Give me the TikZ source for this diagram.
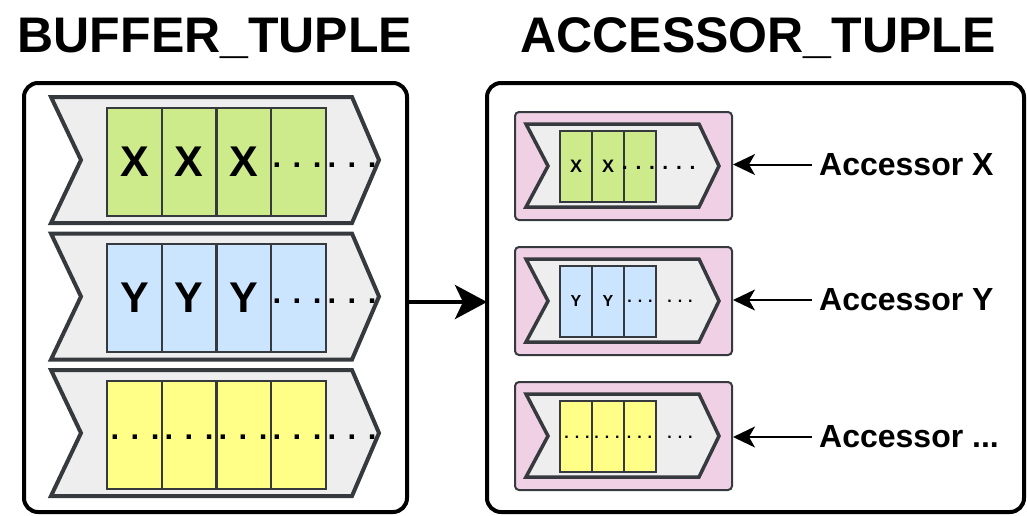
\documentclass[tikz,border=0pt]{standalone}
\usepackage{fontspec}
\setmainfont{Liberation Sans}
\usetikzlibrary{arrows.meta}

\definecolor{edgegrey}{HTML}{36393D}
\definecolor{chevfill}{HTML}{EEEEEE}
\definecolor{cellgreen}{HTML}{CDEB8B}
\definecolor{cellblue}{HTML}{CCE5FF}
\definecolor{cellyellow}{HTML}{FFFF88}
\definecolor{accpink}{HTML}{EFD0E4}

\newcommand{\fsz}[1]{\fontsize{#1}{#1}\selectfont}

\tikzset{
  frame/.style={draw=black, line width=4pt, rounded corners=14pt, fill=white,
    inner sep=0pt, outer sep=0pt},
  title/.style={font=\fsz{50}\bfseries, inner sep=0pt, anchor=base},
  chevron/.style={draw=edgegrey, fill=chevfill, line width=4pt, line join=miter},
  smallchevron/.style={draw=edgegrey, fill=chevfill, line width=3.5pt, line join=miter},
  bigcell/.style={draw=edgegrey, line width=2pt, minimum width=54.75pt,
    minimum height=108pt, inner sep=0pt, font=\fsz{43}\bfseries},
  smallcell/.style={draw=edgegrey, line width=2pt, minimum width=32pt,
    minimum height=71pt, inner sep=0pt, font=\fsz{17}\bfseries},
  accbox/.style={draw=edgegrey, fill=accpink, line width=2pt, rounded corners=4pt,
    minimum width=217pt, minimum height=108pt, inner sep=0pt},
  bigdots/.style={font=\fsz{31}\bfseries, inner sep=0pt},
  midots/.style={font=\fsz{21}\bfseries, inner sep=0pt},
  smdots/.style={font=\fsz{16}\bfseries, inner sep=0pt},
  acclabel/.style={font=\fsz{32}\bfseries, inner sep=0pt, anchor=west},
  accarrow/.style={line width=2pt, -{Stealth[length=22pt,width=21pt,inset=6pt]},
    shorten <=7pt},
  mainarrow/.style={line width=4.5pt, -{Stealth[length=32pt,width=34pt,inset=8pt]}}
}

\begin{document}
\begin{tikzpicture}[x=1pt,y=-1pt]
\useasboundingbox (0,0) rectangle (1027,515);

% headings
\node[title] (buftitle) at (215,52) {BUFFER\_TUPLE};
\node[title] (acctitle) at (758,52) {ACCESSOR\_TUPLE};

% outer containers
\node[frame, minimum width=383pt, minimum height=429pt] (bufbox) at (215.5,297.5) {};
\node[frame, minimum width=537pt, minimum height=429pt] (accbox) at (755.5,297.5) {};

% ---- buffers: one chevron per row, four cells each ----
\foreach \cy/\fillc/\nm in {160/cellgreen/bx, 296.5/cellblue/by, 433/cellyellow/bz}{
  \draw[chevron] (51,\cy-63) -- (352,\cy-63) -- (379,\cy) -- (352,\cy+63)
    -- (51,\cy+63) -- (81,\cy) -- cycle;
  \foreach \i/\cx in {1/134.4, 2/189.1, 3/243.9, 4/298.6}{
    \node[bigcell, fill=\fillc] (\nm\i) at (\cx,\cy+1.5) {};
  }
}

% buffer contents
\foreach \i in {1,2,3}{
  \node[font=\fsz{43}\bfseries, inner sep=0pt] (bxl\i) at (bx\i.center) {X};
  \node[font=\fsz{43}\bfseries, inner sep=0pt] (byl\i) at (by\i.center) {Y};
}
\node[bigdots] (bxd4) at (297,165) {. . .};
\node[bigdots] (bxd5) at (352,165) {. . .};
\node[bigdots] (byd4) at (297,301.5) {. . .};
\node[bigdots] (byd5) at (352,301.5) {. . .};
\node[bigdots] (bzd1) at (135,437) {. . .};
\node[bigdots] (bzd2) at (189,437) {. . .};
\node[bigdots] (bzd3) at (243,437) {. . .};
\node[bigdots] (bzd4) at (297,437) {. . .};
\node[bigdots] (bzd5) at (352,437) {. . .};

% ---- accessors: pink box, chevron, three cells ----
\foreach \cy/\fillc/\nm in {166/cellgreen/ax, 301/cellblue/ay, 436/cellyellow/az}{
  \node[accbox] (\nm) at (623.5,\cy) {};
  \draw[smallchevron] (526,\cy-42) -- (699,\cy-42) -- (719,\cy) -- (699,\cy+41)
    -- (526,\cy+41) -- (548,\cy) -- cycle;
  \foreach \i/\cx in {1/576, 2/608, 3/640}{
    \node[smallcell, fill=\fillc] (\nm\i) at (\cx,\cy) {};
  }
}

% accessor contents
\node[font=\fsz{18}\bfseries, inner sep=0pt] (axl1) at (ax1.center) {X};
\node[font=\fsz{18}\bfseries, inner sep=0pt] (axl2) at (ax2.center) {X};
\node[midots] (axd3) at (638.5,168) {. . .};
\node[midots] (axd4) at (679,168) {. . .};
\node[font=\fsz{16}\bfseries, inner sep=0pt] (ayl1) at (ay1.center) {Y};
\node[font=\fsz{16}\bfseries, inner sep=0pt] (ayl2) at (ay2.center) {Y};
\node[smdots] (ayd3) at (640,301) {. . .};
\node[smdots] (ayd4) at (680,301) {. . .};
\node[smdots] (azd1) at (577,437) {. . .};
\node[smdots] (azd2) at (607,437) {. . .};
\node[smdots] (azd3) at (639.5,437) {. . .};
\node[smdots] (azd4) at (680,437) {. . .};

% labels and their arrows
\node[acclabel] (lblx) at (819,164.5) {Accessor X};
\node[acclabel] (lbly) at (819,300) {Accessor Y};
\node[acclabel] (lblz) at (819,437) {Accessor ...};
\draw[accarrow] (lblx.west) -- (ax.east |- lblx.west);
\draw[accarrow] (lbly.west) -- (ay.east |- lbly.west);
\draw[accarrow] (lblz.west) -- (az.east |- lblz.west);

% buffers feed accessors
\draw[mainarrow] ([yshift=-4.5pt]bufbox.east) -- ([yshift=-4.5pt]accbox.west);
\end{tikzpicture}
\end{document}
